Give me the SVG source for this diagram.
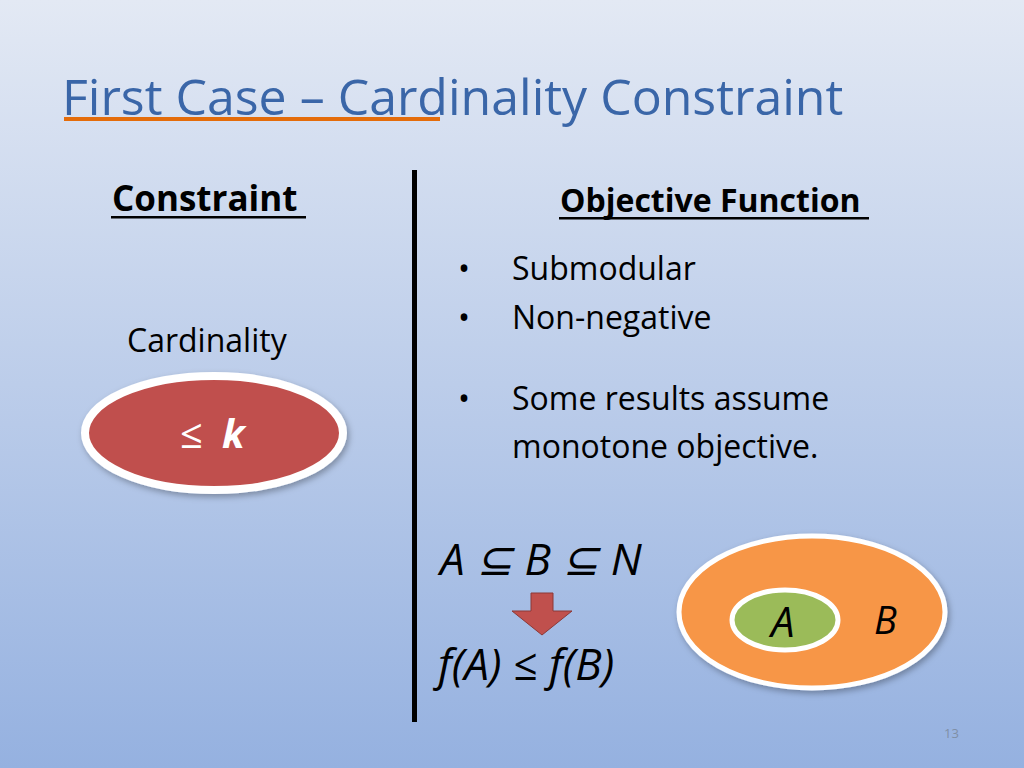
<svg xmlns="http://www.w3.org/2000/svg" width="1024" height="768" viewBox="0 0 1024 768">
<defs>
<linearGradient id="bg" x1="0" y1="0" x2="0" y2="1">
<stop offset="0" stop-color="#e3e9f4"/><stop offset="1" stop-color="#95b1e0"/>
</linearGradient>
<filter id="sh" x="-20%" y="-30%" width="140%" height="160%"><feDropShadow dx="2" dy="3" stdDeviation="3" flood-opacity="0.3"/></filter>
</defs>
<style>
text{font-family:"Open Sans","Noto Sans","Liberation Sans",sans-serif;fill:#000}
.b{font-size:32px}
.m{font-style:italic;font-size:44px}
</style>
<rect width="1024" height="768" fill="url(#bg)"/>
<text x="62" y="115" font-size="50" style="fill:#3a66a8">First Case – Cardinality Constraint</text>
<rect x="64" y="117" width="376" height="4" fill="#e46c0a"/>
<text x="112" y="211" font-size="35" font-weight="bold">Constraint</text>
<rect x="111" y="216" width="195" height="2.5" fill="#000"/>
<text x="560" y="212" font-size="32" font-weight="bold">Objective Function</text>
<rect x="559" y="217" width="310" height="2.5" fill="#000"/>
<rect x="412" y="170" width="5" height="552" fill="#000"/>
<text x="127" y="352" class="b">Cardinality</text>
<g id="k"><ellipse cx="214" cy="433" rx="129" ry="57" fill="#c0504d" stroke="#fff" stroke-width="8" filter="url(#sh)"/>
<text x="180" y="448" font-size="40" style="fill:#fff">≤</text><text x="222" y="448" font-size="40" font-style="italic" font-weight="bold" style="fill:#fff">k</text></g>
<g class="b">
<text x="458" y="280">•</text><text x="512" y="280">Submodular</text>
<text x="458" y="329">•</text><text x="512" y="329">Non-negative</text>
<text x="458" y="410">•</text><text x="512" y="410">Some results assume</text>
<text x="512" y="458">monotone objective.</text>
</g>
<text x="440" y="575" class="m">A ⊆ B ⊆ N</text>
<polygon points="531,593 553,593 553,611 572,611 542,635 512,611 531,611" fill="#c0504d" stroke="#8c3836" stroke-width="1"/>
<text x="438" y="680" class="m">f(A) ≤ f(B)</text>
<g id="B"><ellipse cx="812" cy="612" rx="133" ry="76" fill="#f79646" stroke="#fff" stroke-width="5" filter="url(#sh)"/>
<text x="874" y="634" font-size="38" font-style="italic">B</text></g>
<g id="A"><ellipse cx="785" cy="620" rx="53" ry="30" fill="#9bbb59" stroke="#fff" stroke-width="5"/>
<text x="771" y="637" font-size="42" font-style="italic">A</text></g>
<text x="944" y="738" font-size="13" style="fill:#7f8fa6">13</text>
</svg>
